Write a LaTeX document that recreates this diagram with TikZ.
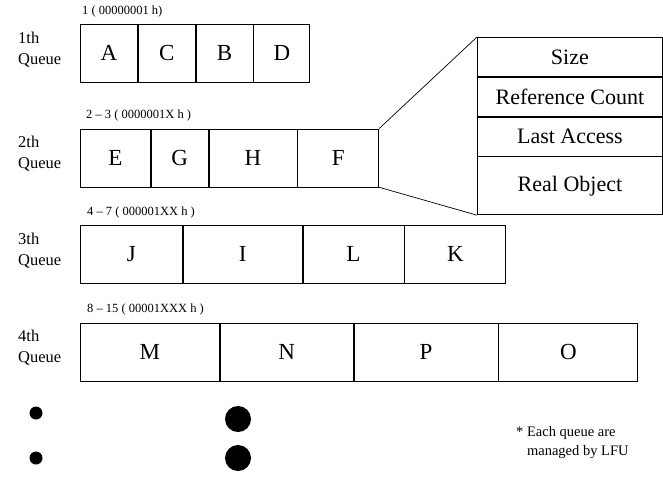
\documentclass[tikz,border=0pt]{standalone}
\usepackage{fontspec}
\setmainfont{Liberation Serif}
\usetikzlibrary{positioning}

\begin{document}
\begin{tikzpicture}[x=1pt, y=-1pt,
        cell/.style={draw, line width=0.8pt, inner sep=0pt, minimum height=58pt, font=\fontsize{23}{23}\selectfont},
        field/.style={draw, line width=0.8pt, inner sep=0pt, minimum width=185pt, minimum height=39pt, font=\fontsize{22}{22}\selectfont},
        rangelabel/.style={anchor=west, inner sep=0pt, font=\fontsize{12.5}{12.5}\selectfont},
        qlabel/.style={anchor=west, inner sep=0pt, align=left, font=\fontsize{16.5}{21}\selectfont},
        zoomline/.style={line width=0.7pt}]
        \useasboundingbox (0,0) rectangle (663,477);

        % 1th queue
        \node[rangelabel] (r1) at (82, 11) {1 ( 00000001 h)};
        \node[qlabel] (q1) at (18, 50) {1th\\Queue};
        \node[cell, minimum width=57pt, anchor=north west] (A) at (80, 24) {A};
        \node[cell, minimum width=57pt, right=0pt of A] (C) {C};
        \node[cell, minimum width=57pt, right=0pt of C] (B) {B};
        \node[cell, minimum width=56pt, right=0pt of B] (D) {D};

        % 2th queue
        \node[rangelabel] (r2) at (86, 115) {2 -- 3 ( 0000001X h )};
        \node[qlabel] (q2) at (18, 154) {2th\\Queue};
        \node[cell, minimum width=70pt, anchor=north west] (E) at (80, 128.5) {E};
        \node[cell, minimum width=57pt, right=0pt of E] (G) {G};
        \node[cell, minimum width=88pt, right=0pt of G] (H) {H};
        \node[cell, minimum width=81pt, right=0pt of H] (F) {F};

        % object record
        \node[field, anchor=north west] (size) at (477, 37) {Size};
        \node[field, below=0pt of size] (refcnt) {Reference Count};
        \node[field, below=0pt of refcnt] (lastacc) {Last Access};
        \node[field, minimum height=58pt, below=0pt of lastacc] (realobj) {Real Object};
        \draw[zoomline] (F.north east) -- (size.north west);
        \draw[zoomline] (F.south east) -- (realobj.south west);

        % 3th queue
        \node[rangelabel] (r3) at (87, 212) {4 -- 7 ( 000001XX h )};
        \node[qlabel] (q3) at (18, 251) {3th\\Queue};
        \node[cell, minimum width=102pt, anchor=north west] (J) at (80, 225) {J};
        \node[cell, minimum width=119pt, right=0pt of J] (I) {I};
        \node[cell, minimum width=101pt, right=0pt of I] (L) {L};
        \node[cell, minimum width=101pt, right=0pt of L] (K) {K};

        % 4th queue
        \node[rangelabel] (r4) at (87, 309) {8 -- 15 ( 00001XXX h )};
        \node[qlabel] (q4) at (18, 348) {4th\\Queue};
        \node[cell, minimum width=139pt, anchor=north west] (M) at (80, 322.5) {M};
        \node[cell, minimum width=133pt, right=0pt of M] (N) {N};
        \node[cell, minimum width=144pt, right=0pt of N] (P) {P};
        \node[cell, minimum width=139pt, right=0pt of P] (O) {O};

        % more queues follow
        \fill (36, 413) circle (6.5);
        \fill (36, 458) circle (6.5);
        \fill (238, 419) circle (13);
        \fill (238, 458) circle (13);

        \node[anchor=west, inner sep=0pt, align=left, font=\fontsize{14.5}{19}\selectfont] (note) at (516, 442.5)
            {* Each queue are\\\phantom{* }managed by LFU};
    \end{tikzpicture}
\end{document}
